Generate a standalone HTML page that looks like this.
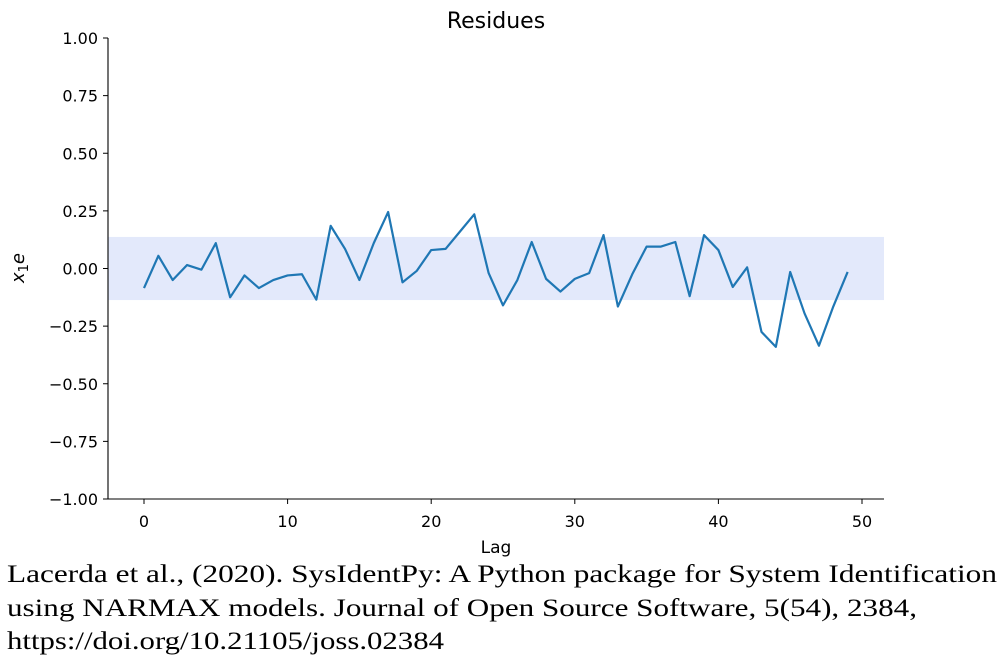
<!DOCTYPE html>
<html><head><meta charset="utf-8"><style>body{margin:0;background:#fff}svg{display:block}</style></head>
<body>
<svg width="999" height="665" xmlns="http://www.w3.org/2000/svg" font-family="'DejaVu Sans','Liberation Sans',sans-serif">
<g id="plot"></g>
<text x="496" y="28" font-size="22" text-anchor="middle">Residues</text>
<text x="496" y="553" font-size="17" text-anchor="middle">Lag</text>
<text transform="translate(24,268) rotate(-90)" font-size="18" text-anchor="middle" font-style="italic">x<tspan font-size="13" dy="4" font-style="normal">1</tspan><tspan dy="-4">e</tspan></text>
<g font-family="'Liberation Serif',serif" font-size="25">
<text x="7" y="582" textLength="990" lengthAdjust="spacingAndGlyphs">Lacerda et al., (2020). SysIdentPy: A Python package for System Identification</text>
<text x="7" y="616" textLength="910" lengthAdjust="spacingAndGlyphs">using NARMAX models. Journal of Open Source Software, 5(54), 2384,</text>
<text x="7" y="649" textLength="437" lengthAdjust="spacingAndGlyphs">https://doi.org/10.21105/joss.02384</text>
</g>
</svg>
<script>
const lags=[...Array(50).keys()];
const residues=[-0.085,0.055,-0.05,0.015,-0.005,0.11,-0.125,-0.03,-0.085,-0.05,-0.03,-0.025,-0.135,0.185,0.085,-0.05,0.11,0.245,-0.06,-0.01,0.08,0.085,0.16,0.235,-0.02,-0.16,-0.05,0.115,-0.045,-0.10,-0.045,-0.02,0.145,-0.165,-0.025,0.095,0.095,0.115,-0.12,0.145,0.08,-0.08,0.005,-0.275,-0.34,-0.015,-0.195,-0.335,-0.165,-0.015];
const confBand=0.137;
const yTicks=[1,0.75,0.5,0.25,0,-0.25,-0.5,-0.75,-1];
const yTickLabels=["1.00","0.75","0.50","0.25","0.00","\u22120.25","\u22120.50","\u22120.75","\u22121.00"];
const xTicks=[0,10,20,30,40,50];
const NS="http://www.w3.org/2000/svg";
const X=v=>144+v*14.36, Y=v=>268.5-v*230.5;
const g=document.getElementById('plot');
function mk(t,a){const e=document.createElementNS(NS,t);for(const k in a)e.setAttribute(k,a[k]);g.appendChild(e);return e;}
let e=mk('rect',{x:108,y:Y(confBand),width:776,height:Y(-confBand)-Y(confBand),fill:'#e3e9fb'});


e=mk('polyline',{points:residues.map((v,i)=>X(lags[i])+','+Y(v)).join(' '),fill:'none',stroke:'#1f77b4','stroke-width':2.2,'stroke-linejoin':'round'});


e=mk('line',{x1:108,y1:38,x2:108,y2:499,stroke:'#000','stroke-width':1.1});


e=mk('line',{x1:108,y1:499,x2:884,y2:499,stroke:'#000','stroke-width':1.1});


yTicks.forEach((v,i)=>{
 mk('line',{x1:103,y1:Y(v),x2:108,y2:Y(v),stroke:'#000'});
 const t=mk('text',{x:98,y:Y(v)+6,'font-size':16,'text-anchor':'end'});t.textContent=yTickLabels[i];
 
 
});
xTicks.forEach(v=>{
 mk('line',{x1:X(v),y1:499,x2:X(v),y2:504,stroke:'#000'});
 const t=mk('text',{x:X(v),y:527,'font-size':16,'text-anchor':'middle'});t.textContent=v;
 
 
});
</script>
</body></html>
